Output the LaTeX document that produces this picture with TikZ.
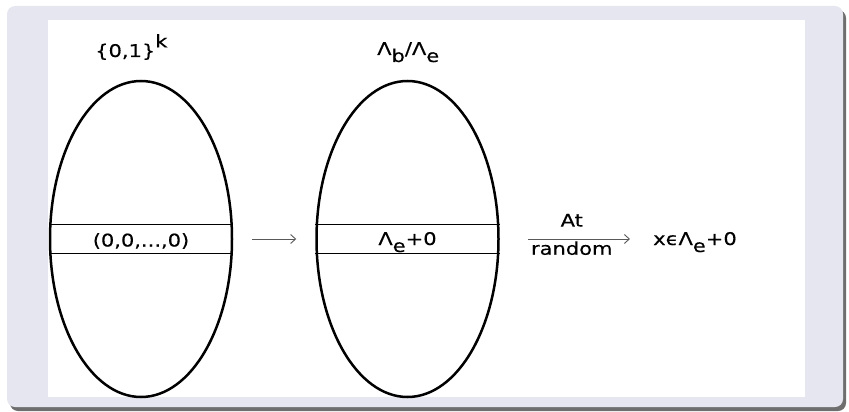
\documentclass[tikz,border=0pt]{standalone}
\usepackage{fontspec}
\setmainfont[FakeStretch=1.2,FakeBold=0.4]{DejaVu Sans}
\usetikzlibrary{arrows.meta,shapes.geometric}
\definecolor{framegray}{RGB}{230,230,240}
\definecolor{shadowgray}{RGB}{110,110,110}
\newcommand\suptxt[1]{\raisebox{0.55em}{#1}}
\newcommand\subtxt[1]{\raisebox{-0.4em}{#1}}

\begin{document}
\begin{tikzpicture}[x=1pt,y=-1pt,
  setshape/.style={draw, ellipse, line width=2.5pt, minimum width=182pt, minimum height=316pt, inner sep=0pt},
  band/.style={line width=0.9pt},
  lbl/.style={inner sep=0pt, font=\fontsize{17.5}{21}\selectfont},
  maparrow/.style={draw=black!65, line width=0.9pt, -{Straight Barb[length=5pt,width=9pt]}}]
\useasboundingbox (0,0) rectangle (849,412);
% frame
\fill[shadowgray, rounded corners=8pt] (10,10) rectangle (846,411);
\fill[framegray, rounded corners=8pt] (7,6) rectangle (843,407);
\fill[white] (48,20) rectangle (805,397);
%
\node[setshape] (set1) at (141,239) {};
\node[setshape] (set2) at (407.5,239) {};
	\draw[band] ([yshift=14.5pt]set1.west) -- ([yshift=14.5pt]set1.east);
	\draw[band] ([yshift=-14.5pt]set1.west) -- ([yshift=-14.5pt]set1.east);
	\draw[band] ([yshift=14.5pt]set2.west) -- ([yshift=14.5pt]set2.east);
	\draw[band] ([yshift=-14.5pt]set2.west) -- ([yshift=-14.5pt]set2.east);
%
\node[lbl, anchor=base west] (cube) at (95,57) {\{0,1\}\suptxt{k}};
\node[lbl, anchor=base west] (quot) at (377,55) {Λ\subtxt{b}/Λ\subtxt{e}};
\node[lbl, anchor=base] (zero) at ([yshift=-7.5pt]set1.center) {(0,0,...,0)};
\node[lbl, anchor=base] (coset) at ([yshift=-6pt]set2.center) {Λ\subtxt{e}+0};
\node[lbl, anchor=base west] (pick) at (653,245) {xϵΛ\subtxt{e}+0};
%
\draw[maparrow, shorten <=19pt, shorten >=19pt] (set1.east) -- (set2.west);
\draw[maparrow, shorten <=28.5pt, shorten >=23pt] (set2.east) -- (set2.east -| pick.west)
	node[lbl, pos=0.47, above=12pt] (at) {At}
	node[lbl, pos=0.47, below=2pt] (rnd) {random};
\end{tikzpicture}
\end{document}
